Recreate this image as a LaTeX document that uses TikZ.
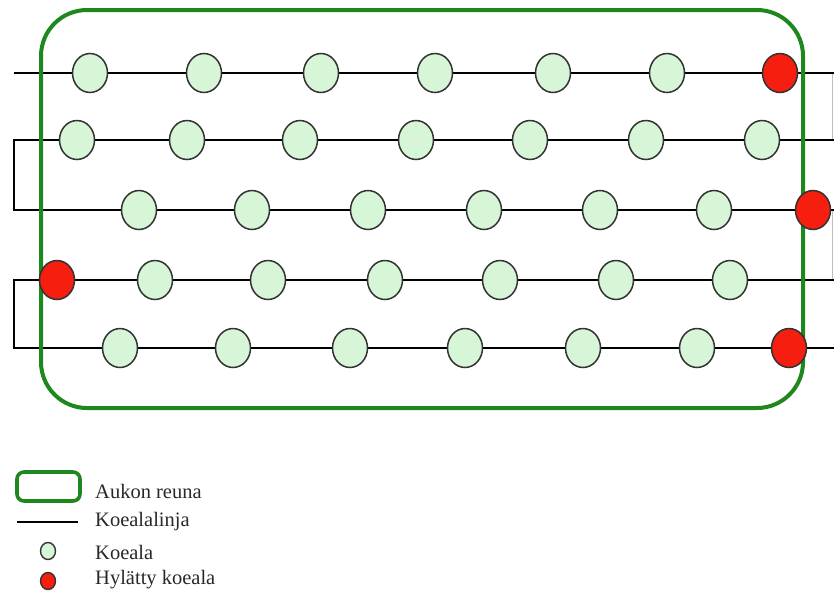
\documentclass[tikz,border=0pt]{standalone}
\usepackage{fontspec}
\setmainfont{Liberation Serif}
\usetikzlibrary{shapes.geometric}
\definecolor{edgegreen}{RGB}{30,135,30}
\definecolor{plotfill}{RGB}{215,245,215}
\definecolor{rejfill}{RGB}{245,30,15}
\definecolor{labelgray}{RGB}{40,40,40}
\tikzset{
  transect/.style={line width=2.6pt, black},
  joinline/.style={line width=0.8pt, black!25},
  gapedge/.style={line width=4pt, edgegreen, rounded corners=46pt},
  plot/.style={ellipse, draw=black!80, line width=1.5pt, fill=plotfill,
               minimum width=35pt, minimum height=39pt, inner sep=0pt},
  rejected/.style={plot, fill=rejfill},
  legplot/.style={plot, minimum width=15pt, minimum height=17pt, line width=1.4pt},
  legtext/.style={anchor=west, inner sep=0pt, font=\fontsize{20.5}{24}\selectfont, text=labelgray}
}
\begin{document}
\begin{tikzpicture}[x=1pt, y=-1pt]
\useasboundingbox (0,0) rectangle (834,595);

% transect lines
\coordinate (r1w) at (14,73);   \coordinate (r1e) at (834,73);
\coordinate (r2w) at (14,140);  \coordinate (r2e) at (834,140);
\coordinate (r3w) at (14,210);  \coordinate (r3e) at (834,210);
\coordinate (r4w) at (14,280);  \coordinate (r4e) at (834,280);
\coordinate (r5w) at (14,348);  \coordinate (r5e) at (834,348);
\coordinate (j1) at (832,73);  \coordinate (j2) at (832,140);
\coordinate (j3) at (832,210); \coordinate (j4) at (832,280);

\draw[joinline] (j1) -- (j2);
\draw[joinline] (j3) -- (j4);
\draw[transect] (r1w) -- (r1e);
\draw[transect, line join=miter] (r2e) -- (r2w) -- (r3w) -- (r3e);
\draw[transect, line join=miter] (r4e) -- (r4w) -- (r5w) -- (r5e);

% boundary of the gap
\draw[gapedge] (41,10) rectangle (803,408);

% sample plots
\foreach \x [count=\i] in {90,204,321,435,553,667}
  \node[plot] (p1-\i) at (\x,73) {};
\node[rejected] (x1) at (780,73) {};

\foreach \x [count=\i] in {77,187,300,416,530,646,762}
  \node[plot] (p2-\i) at (\x,140) {};

\foreach \x [count=\i] in {139,252,368,484,600,714}
  \node[plot] (p3-\i) at (\x,210) {};
\node[rejected] (x3) at (813,210) {};

\node[rejected] (x4) at (57,280) {};
\foreach \x [count=\i] in {155,268,385,500,616,730}
  \node[plot] (p4-\i) at (\x,280) {};

\foreach \x [count=\i] in {120,233,350,465,583,697}
  \node[plot] (p5-\i) at (\x,348) {};
\node[rejected] (x5) at (789,348) {};

% legend
\draw[line width=3.6pt, edgegreen, rounded corners=7pt] (17,472) rectangle (80,501);
\node[legtext] (l1) at (95,491) {Aukon reuna};
\coordinate (la) at (17,522); \coordinate (lb) at (78,522);
\draw[line width=2.6pt] (la) -- (lb);
\node[legtext] (l2) at (95,522) {Koealalinja};
\node[legplot] (lp) at (48,551) {};
\node[legtext] (l3) at (95,552) {Koeala};
\node[legplot, fill=rejfill] (lr) at (48,581) {};
\node[legtext] (l4) at (95,580) {Hylätty koeala};
\end{tikzpicture}
\end{document}
